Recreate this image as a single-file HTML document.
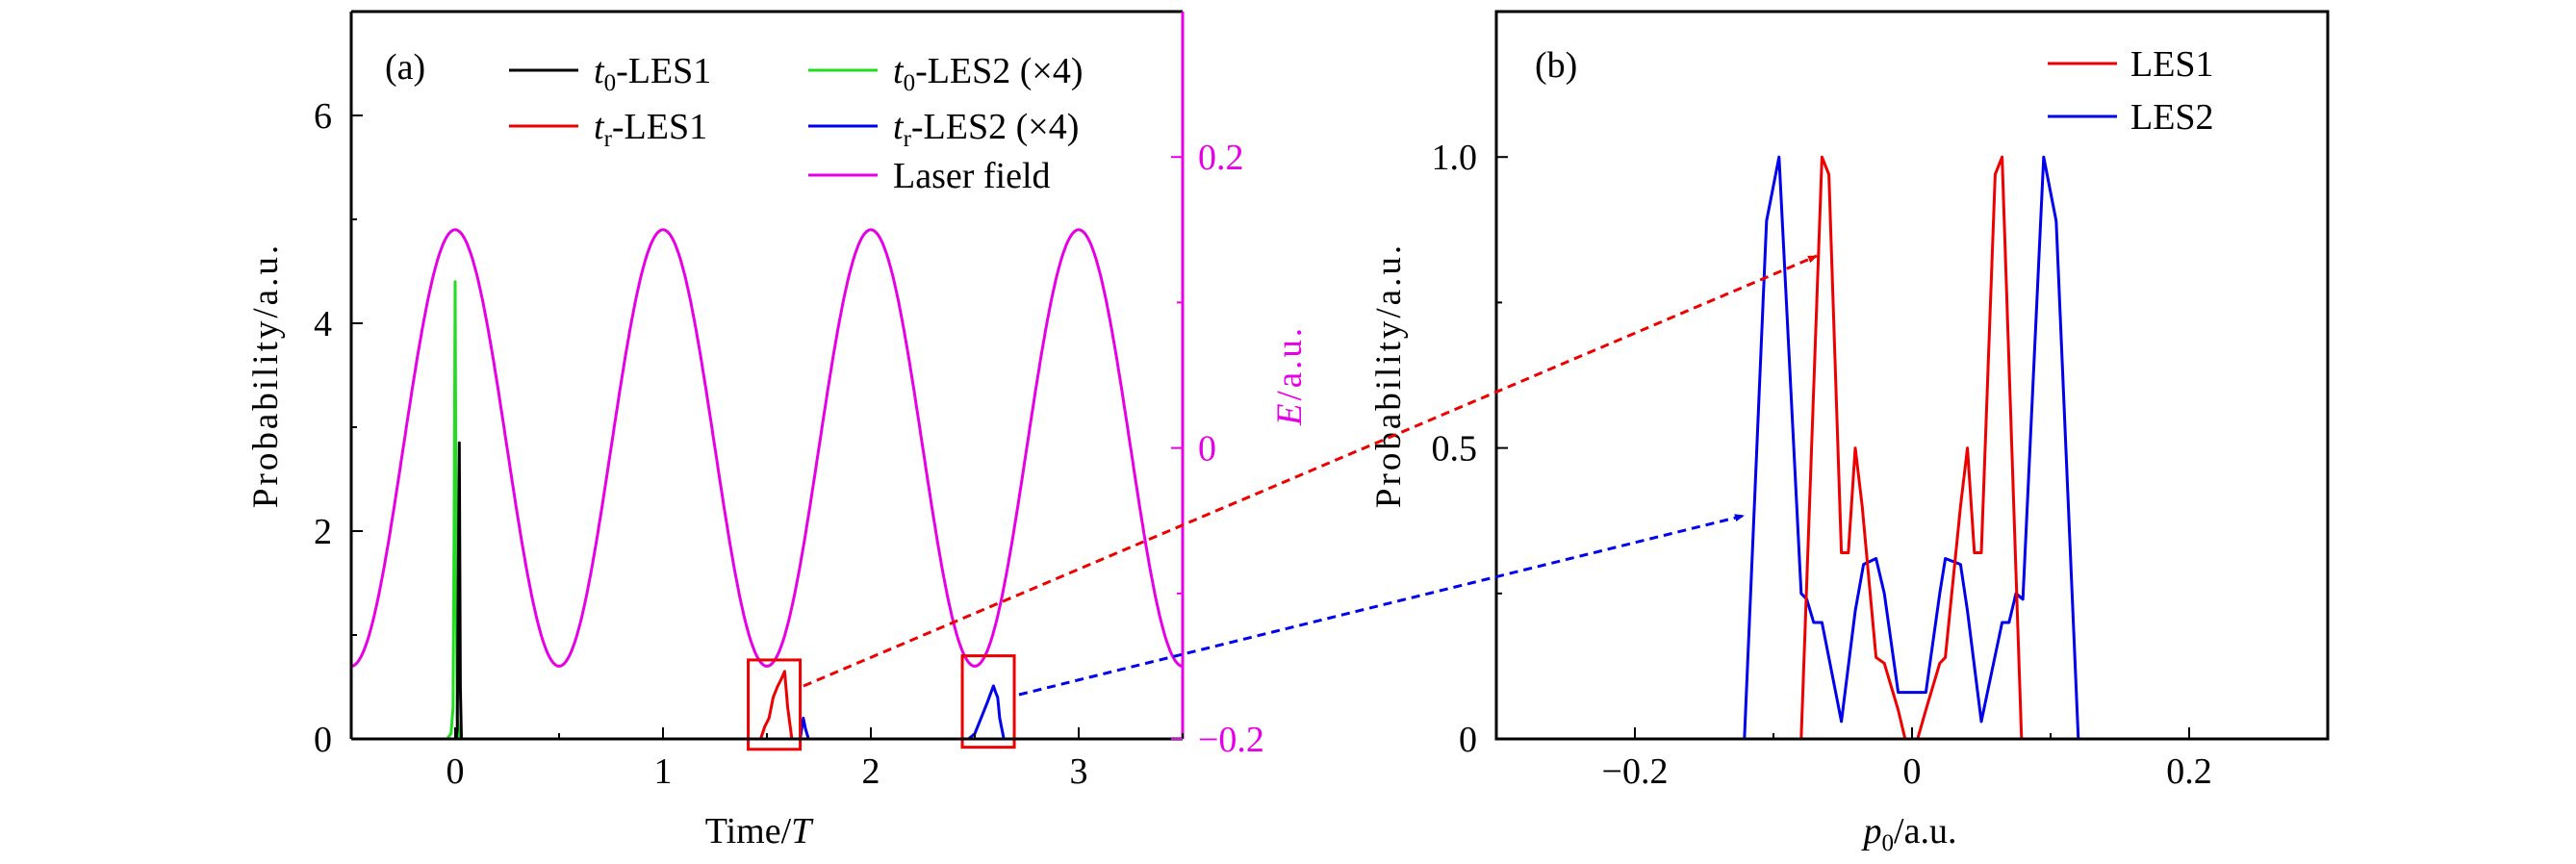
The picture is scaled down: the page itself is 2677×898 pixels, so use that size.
<!DOCTYPE html>
<html><head><meta charset="utf-8"><style>
html,body{margin:0;padding:0;background:#fff}
svg{display:block}
text{font-family:"Liberation Serif",serif}
</style></head><body>
<svg id="s" width="2677" height="898" viewBox="0 0 2677 898" xmlns="http://www.w3.org/2000/svg">
<defs>
<marker id="ahR" markerWidth="10" markerHeight="8" refX="9" refY="4" orient="auto" markerUnits="userSpaceOnUse" viewBox="0 0 10 8"><path d="M0,0L10,4L0,8z" fill="#e00"/></marker>
<marker id="ahB" markerWidth="10" markerHeight="8" refX="9" refY="4" orient="auto" markerUnits="userSpaceOnUse" viewBox="0 0 10 8"><path d="M0,0L10,4L0,8z" fill="#00e"/></marker>
</defs>
<g id="pa"></g>
<g id="pb"></g>
<g id="ov"></g>
</svg>
<script>
// Panel (a) data
const aBlackT=[0.005,0.01,0.015,0.02,0.025,0.03];
const aBlackP=[0,0.1,1.5,2.85,0.5,0];
const aGreenT=[-0.04,-0.02,-0.01,-0.005,0,0.005,0.01,0.02];
const aGreenP=[0,0.05,0.3,2.0,4.4,1.5,0.2,0];
const aRedT=[1.47,1.49,1.51,1.53,1.55,1.57,1.585,1.6,1.62];
const aRedP=[0,0.12,0.2,0.4,0.5,0.58,0.65,0.3,0];
const aBlue1T=[1.66,1.675,1.685,1.7];
const aBlue1P=[0,0.2,0.1,0];
const aBlue2T=[2.47,2.5,2.53,2.56,2.59,2.6,2.61,2.62,2.64];
const aBlue2P=[0,0.05,0.2,0.35,0.51,0.45,0.4,0.2,0];
const laserAmp=0.15;
const aXTicks=[0,1,2,3];
const aYTicks=[0,2,4,6];
const aETicks=[-0.2,0,0.2];
const aETickLabels=["\u22120.2","0","0.2"];
// Panel (b) data
const bRedX=[-0.08,-0.065,-0.06,-0.051,-0.046,-0.041,-0.036,-0.026,-0.02,-0.01,-0.005,0.004,0.01,0.02,0.024,0.035,0.04,0.045,0.05,0.06,0.065,0.079];
const bRedY=[0,1.0,0.97,0.32,0.32,0.5,0.4,0.14,0.13,0.05,0,0,0.05,0.13,0.14,0.4,0.5,0.32,0.32,0.97,1.0,0];
const bBlueX=[-0.121,-0.105,-0.096,-0.08,-0.076,-0.071,-0.065,-0.051,-0.041,-0.035,-0.026,-0.02,-0.01,-0.005,0.004,0.01,0.02,0.024,0.035,0.04,0.05,0.065,0.07,0.075,0.08,0.095,0.104,0.12];
const bBlueY=[0,0.89,1.0,0.25,0.24,0.2,0.2,0.03,0.22,0.3,0.31,0.25,0.08,0.08,0.08,0.08,0.25,0.31,0.3,0.22,0.03,0.2,0.2,0.25,0.24,1.0,0.89,0];
const bXTicks=[-0.2,0,0.2];
const bXTickLabels=["\u22120.2","0","0.2"];
const bYTicks=[0,0.5,1.0];
const bYTickLabels=["0","0.5","1.0"];

const NS="http://www.w3.org/2000/svg";
function mk(parent,tag,attrs,txt){const e=document.createElementNS(NS,tag);for(const k in attrs)e.setAttribute(k,attrs[k]);if(txt!==undefined)e.textContent=txt;parent.appendChild(e);return e;}

const FS=38;
// axes panel a
const AL=365,AR=1229,AT=12,AB=768;
const ax=t=>AL+(t+0.5)/4*(AR-AL);
const ay=p=>AB-p/7*(AB-AT);
const ae=v=>AB-(v+0.2)/0.5*(AB-AT);
const pa=document.getElementById('pa');

function poly(parent,xs,ys,fx,fy,color,name){
  const pts=xs.map((x,i)=>fx(x).toFixed(1)+","+fy(ys[i]).toFixed(1)).join(" ");
  const e=mk(parent,'polyline',{points:pts,fill:'none',stroke:color,'stroke-width':3,'stroke-linejoin':'round'});
  
  
  return e;
}
const lt=[],lv=[];
for(let i=0;i<=800;i++){const t=-0.5+4*i/800;lt.push(t);lv.push(laserAmp*Math.cos(2*Math.PI*t));}
poly(pa,lt,lv,ax,ae,'#e600e6','laser-field-line');
poly(pa,aGreenT,aGreenP,ax,ay,'#22dd22','t0-les2-line');
poly(pa,aBlackT,aBlackP,ax,ay,'#000','t0-les1-line');
poly(pa,aRedT,aRedP,ax,ay,'#e00','tr-les1-line');
poly(pa,aBlue1T,aBlue1P,ax,ay,'#00e','tr-les2-line-1');
poly(pa,aBlue2T,aBlue2P,ax,ay,'#00e','tr-les2-line-2');
let bx1=mk(pa,'rect',{x:ax(1.41),y:ay(0.76),width:ax(1.66)-ax(1.41),height:ay(-0.1)-ay(0.76),fill:'none',stroke:'#e00','stroke-width':3});


let bx2=mk(pa,'rect',{x:ax(2.44),y:ay(0.8),width:ax(2.69)-ax(2.44),height:ay(-0.08)-ay(0.8),fill:'none',stroke:'#e00','stroke-width':3});


mk(pa,'line',{x1:AL,y1:AT,x2:AR,y2:AT,stroke:'#000','stroke-width':3});
mk(pa,'line',{x1:AL,y1:AT,x2:AL,y2:AB,stroke:'#000','stroke-width':3});
mk(pa,'line',{x1:AL,y1:AB,x2:AR,y2:AB,stroke:'#000','stroke-width':3});
mk(pa,'line',{x1:AR,y1:AT,x2:AR,y2:AB,stroke:'#e600e6','stroke-width':3});
for(const t of aXTicks){mk(pa,'line',{x1:ax(t),y1:AB,x2:ax(t),y2:AB-12,stroke:'#000','stroke-width':2});
  const e=mk(pa,'text',{x:ax(t),y:814,'font-size':FS,'text-anchor':'middle'},String(t));}
for(const t of [-0.5,0.5,1.5,2.5,3.5]) mk(pa,'line',{x1:ax(t),y1:AB,x2:ax(t),y2:AB-6,stroke:'#000','stroke-width':2});
for(const p of aYTicks){mk(pa,'line',{x1:AL,y1:ay(p),x2:AL+12,y2:ay(p),stroke:'#000','stroke-width':2});
  const e=mk(pa,'text',{x:AL-20,y:ay(p)+13,'font-size':FS,'text-anchor':'end'},String(p));}
for(const p of [1,3,5]) mk(pa,'line',{x1:AL,y1:ay(p),x2:AL+6,y2:ay(p),stroke:'#000','stroke-width':2});
aETicks.forEach((v,i)=>{mk(pa,'line',{x1:AR,y1:ae(v),x2:AR-12,y2:ae(v),stroke:'#e600e6','stroke-width':2});
  const e=mk(pa,'text',{x:AR+16,y:ae(v)+13,'font-size':FS,fill:'#e600e6'},aETickLabels[i]);});
for(const v of [-0.1,0.1]) mk(pa,'line',{x1:AR,y1:ae(v),x2:AR-6,y2:ae(v),stroke:'#e600e6','stroke-width':2});
let t1=mk(pa,'text',{x:788,y:876,'font-size':FS,'text-anchor':'middle'});t1.innerHTML='Time/<tspan font-style="italic">T</tspan>';

let t2=mk(pa,'text',{x:0,y:0,'font-size':37,'text-anchor':'middle','letter-spacing':3,transform:'translate(288,390) rotate(-90)'},'Probability/a.u.');

let t3=mk(pa,'text',{x:0,y:0,'font-size':37,'text-anchor':'middle','letter-spacing':3,fill:'#e600e6',transform:'translate(1352,390) rotate(-90)'});t3.innerHTML='<tspan font-style="italic">E</tspan>/a.u.';

let t4=mk(pa,'text',{x:400,y:82,'font-size':FS},'(a)');
const legA=[[529,73,'#000','<tspan font-style="italic">t</tspan><tspan font-size="25" dy="8">0</tspan><tspan dy="-8">-LES1</tspan>'],
[529,131,'#e00','<tspan font-style="italic">t</tspan><tspan font-size="25" dy="8">r</tspan><tspan dy="-8">-LES1</tspan>'],
[840,73,'#22dd22','<tspan font-style="italic">t</tspan><tspan font-size="25" dy="8">0</tspan><tspan dy="-8">-LES2 (×4)</tspan>'],
[840,131,'#00e','<tspan font-style="italic">t</tspan><tspan font-size="25" dy="8">r</tspan><tspan dy="-8">-LES2 (×4)</tspan>'],
[840,182,'#e600e6','Laser field']];
for(const [x,y,c,h] of legA){const g=mk(pa,'g',{});
  mk(g,'line',{x1:x,y1:y,x2:x+72,y2:y,stroke:c,'stroke-width':3});const tt=mk(g,'text',{x:x+88,y:y+13,'font-size':FS});tt.innerHTML=h;}

// panel b
const BL=1555,BR=2419,BT=12,BB=768;
const bx=p=>BL+(p+0.3)/0.6*(BR-BL);
const by=v=>BB-v/1.25*(BB-BT);
const pb=document.getElementById('pb');
poly(pb,bBlueX,bBlueY,bx,by,'#00e','les2-line');
poly(pb,bRedX,bRedY,bx,by,'#e00','les1-line');
mk(pb,'rect',{x:BL,y:BT,width:BR-BL,height:BB-BT,fill:'none',stroke:'#000','stroke-width':3});
bXTicks.forEach((v,i)=>{mk(pb,'line',{x1:bx(v),y1:BB,x2:bx(v),y2:BB-12,stroke:'#000','stroke-width':2});
  const e=mk(pb,'text',{x:bx(v),y:814,'font-size':FS,'text-anchor':'middle'},bXTickLabels[i]);});
for(const v of [-0.1,0.1]) mk(pb,'line',{x1:bx(v),y1:BB,x2:bx(v),y2:BB-6,stroke:'#000','stroke-width':2});
bYTicks.forEach((v,i)=>{mk(pb,'line',{x1:BL,y1:by(v),x2:BL+12,y2:by(v),stroke:'#000','stroke-width':2});
  const e=mk(pb,'text',{x:BL-20,y:by(v)+13,'font-size':FS,'text-anchor':'end'},bYTickLabels[i]);});
for(const v of [0.25,0.75]) mk(pb,'line',{x1:BL,y1:by(v),x2:BL+6,y2:by(v),stroke:'#000','stroke-width':2});
let u1=mk(pb,'text',{x:1985,y:876,'font-size':FS,'text-anchor':'middle'});u1.innerHTML='<tspan font-style="italic">p</tspan><tspan font-size="25" dy="8">0</tspan><tspan dy="-8">/a.u.</tspan>';

let u2=mk(pb,'text',{x:0,y:0,'font-size':37,'text-anchor':'middle','letter-spacing':3,transform:'translate(1455,390) rotate(-90)'},'Probability/a.u.');

let u3=mk(pb,'text',{x:1595,y:80,'font-size':FS},'(b)');
for(const [y,c,l] of [[66,'#e00','LES1'],[121,'#00e','LES2']]){const g=mk(pb,'g',{});
  mk(g,'line',{x1:2128,y1:y,x2:2200,y2:y,stroke:c,'stroke-width':3});mk(g,'text',{x:2214,y:y+13,'font-size':FS},l);}

const ov=document.getElementById('ov');
let a1=mk(ov,'line',{x1:835,y1:713,x2:1888,y2:266,stroke:'#e00','stroke-width':3,'stroke-dasharray':'9,6','marker-end':'url(#ahR)'});

let a2=mk(ov,'line',{x1:1059,y1:722,x2:1812,y2:536,stroke:'#00e','stroke-width':3,'stroke-dasharray':'9,6','marker-end':'url(#ahB)'});

</script>
</body></html>
